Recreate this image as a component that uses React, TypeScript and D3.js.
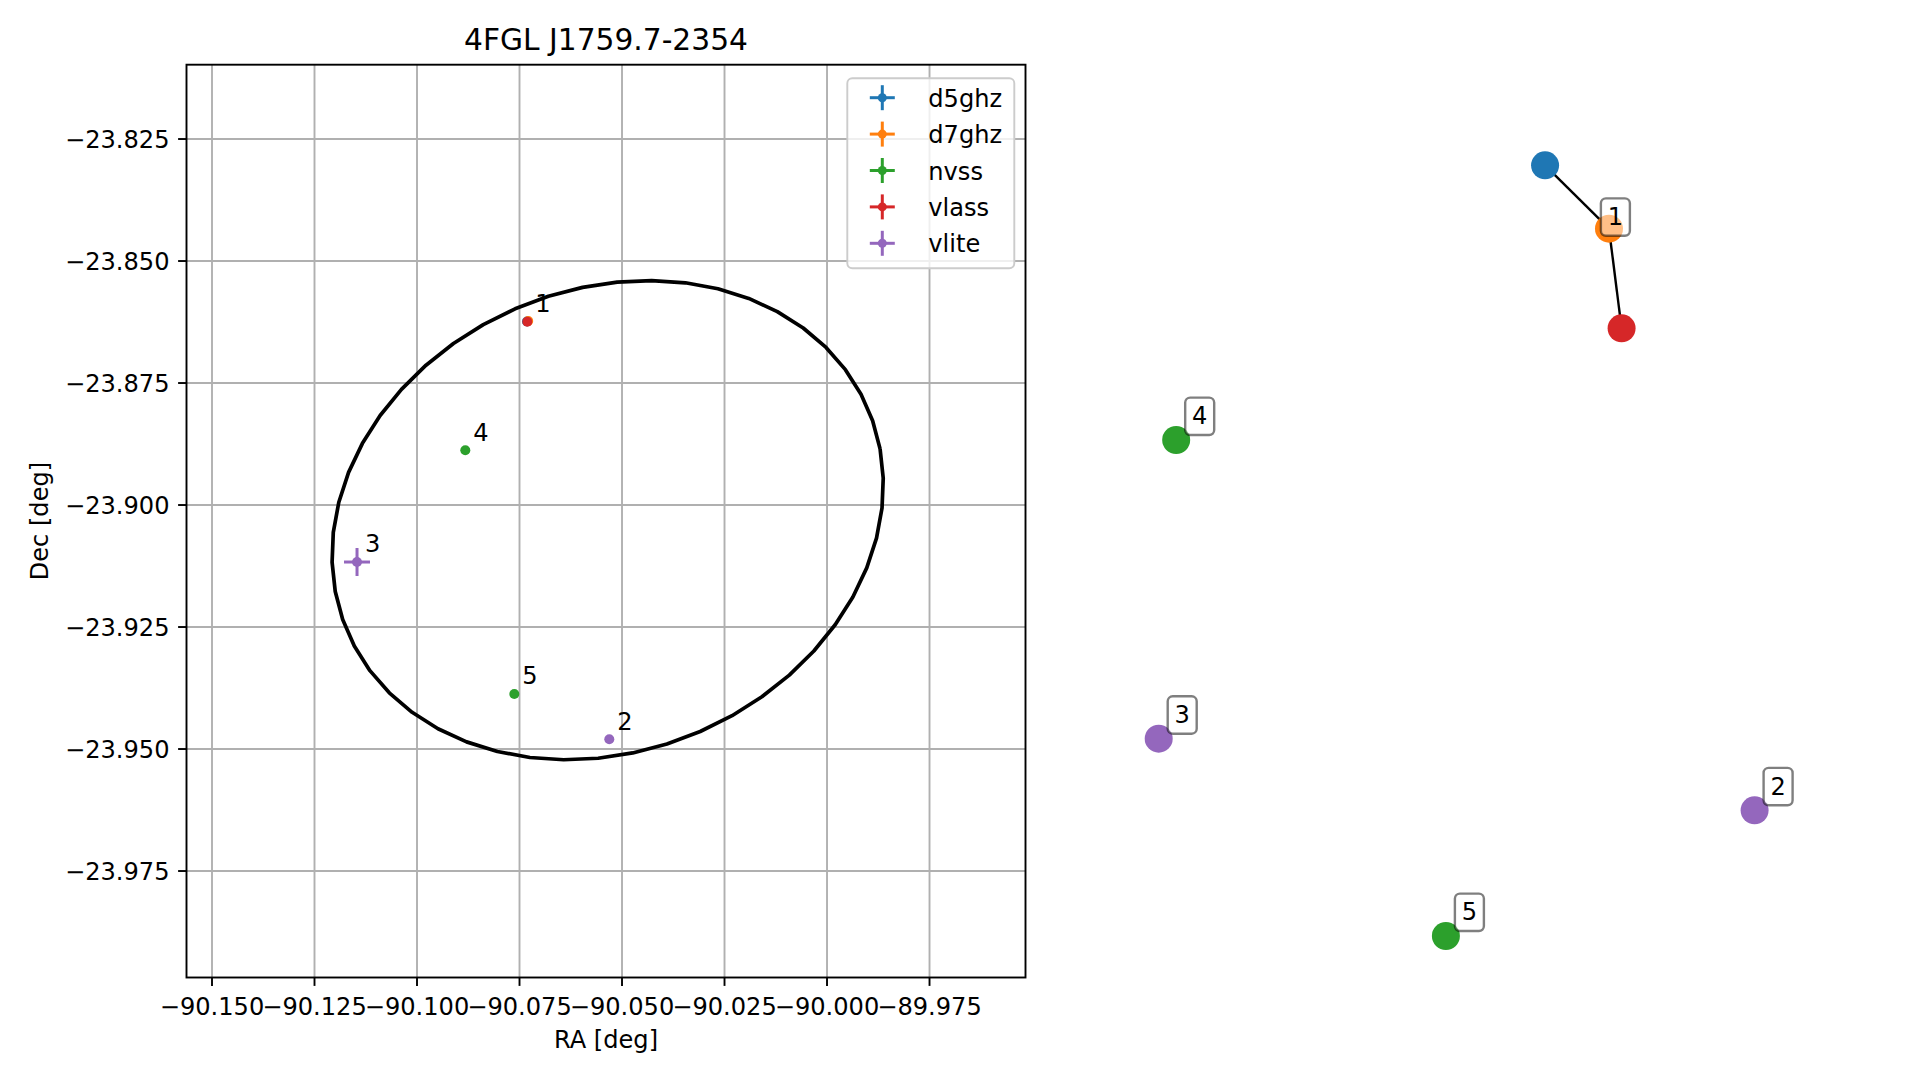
import React from "react";
import * as d3 from "d3";

// ---------- data ----------
const TITLE = "4FGL J1759.7-2354";
const SURVEYS = ["d5ghz", "d7ghz", "nvss", "vlass", "vlite"];
const SURVEY_COLORS = ["#1f77b4", "#ff7f0e", "#2ca02c", "#d62728", "#9467bd"];

// radio sources (left panel)
const SRC_SURVEY = ["d5ghz", "d7ghz", "vlass", "vlite", "vlite", "nvss", "nvss"];
const SRC_GROUP = [1, 1, 1, 2, 3, 4, 5];
const SRC_RA = [-90.07318, -90.07288, -90.0731, -90.0531, -90.11463, -90.08822, -90.07627];
const SRC_DEC = [-23.8624, -23.86228, -23.86244, -23.94801, -23.91168, -23.88879, -23.93873];
const SRC_RA_ERR = [0.0002, 0.0002, 0.0002, 0.0004, 0.00317, 0.0004, 0.0004];
const SRC_DEC_ERR = [0.0002, 0.0002, 0.0002, 0.0004, 0.00287, 0.0004, 0.0004];

// 4FGL 95% ellipse
const ELL_CENTER_RA = -90.0535;
const ELL_CENTER_DEC = -23.9031;
const ELL_SEMI_MAJOR = 0.06803;
const ELL_SEMI_MINOR = 0.048;
const ELL_ANGLE_DEG = 12.4;
const ELL_SEGMENTS = 50;

// axes
const X_DOMAIN = [-90.15622, -89.95159];
const Y_DOMAIN = [-23.80977, -23.99682];
const X_TICKS = [-90.15, -90.125, -90.1, -90.075, -90.05, -90.025, -90.0, -89.975];
const Y_TICKS = [-23.825, -23.85, -23.875, -23.9, -23.925, -23.95, -23.975];

// cross-match graph (right panel), layout coordinates
const NODE_X = [0.2968, 0.5113, 0.5536, 1.0, -1.0, -0.9413, -0.0361];
const NODE_Y = [1.0, 0.8355, 0.577, -0.6738, -0.488, 0.2871, -1.0];
const EDGES = [
  [0, 1],
  [1, 2],
];
const GROUPS = [1, 2, 3, 4, 5];

// ---------- layout ----------
const W = 1919;
const H = 1080;
const AX = { left: 186.5, right: 1025.5, top: 64.7, bottom: 977.5 };
const FONT = "'DejaVu Sans', 'Liberation Sans', sans-serif";
const FS = 24.1;

const colorOf = (s: string) => SURVEY_COLORS[SURVEYS.indexOf(s)];
const fmt = (v: number) => d3.format(".3f")(v).replace("-", "\u2212");

export default function App() {
  const x = d3.scaleLinear().domain(X_DOMAIN).range([AX.left, AX.right]);
  const y = d3.scaleLinear().domain(Y_DOMAIN).range([AX.top, AX.bottom]);

  const gx = d3.scaleLinear().domain([-1, 1]).range([1158.7, 1754.6]);
  const gy = d3.scaleLinear().domain([-1, 1]).range([936, 165.3]);

  const th = (ELL_ANGLE_DEG * Math.PI) / 180;
  const ellPts: [number, number][] = d3.range(ELL_SEGMENTS + 1).map((i) => {
    const t = (2 * Math.PI * i) / ELL_SEGMENTS;
    const ex = ELL_SEMI_MAJOR * Math.cos(t) * Math.cos(th) - ELL_SEMI_MINOR * Math.sin(t) * Math.sin(th);
    const ey = ELL_SEMI_MAJOR * Math.cos(t) * Math.sin(th) + ELL_SEMI_MINOR * Math.sin(t) * Math.cos(th);
    return [x(ELL_CENTER_RA + ex), y(ELL_CENTER_DEC + ey)];
  });
  const line = d3.line();

  // draw order by survey
  const order = d3.range(SRC_RA.length).sort(
    (a, b) => SURVEYS.indexOf(SRC_SURVEY[a]) - SURVEYS.indexOf(SRC_SURVEY[b])
  );

  // left-panel labels: one per group
  const leftLabels = GROUPS.map((g) => {
    const idx = d3.range(SRC_RA.length).filter((i) => SRC_GROUP[i] === g);
    const pick = idx.filter((i) => SRC_SURVEY[i] === "vlass" || idx.length === 1);
    const use = pick.length ? pick : idx;
    return {
      g,
      px: x(d3.mean(use, (i) => SRC_RA[i]) as number),
      py: y(d3.mean(use, (i) => SRC_DEC[i]) as number),
    };
  });

  const rightLabels = GROUPS.map((g) => {
    const idx = d3.range(NODE_X.length).filter((i) => SRC_GROUP[i] === g);
    return {
      g,
      px: gx(d3.mean(idx, (i) => NODE_X[i]) as number),
      py: gy(d3.mean(idx, (i) => NODE_Y[i]) as number),
    };
  });

  const legendX = 847.3;
  const legendY = 78.3;
  const rowH = 36.4;

  return (
    <svg
      width={W}
      height={H}
      style={{ position: "fixed", left: 0, top: 0, background: "#fff" }}
      fontFamily={FONT}
    >
      <rect x={0} y={0} width={W} height={H} fill="#fff" />
      {/* grid */}
      <g stroke="#b0b0b0" strokeWidth={1.9}>
        {X_TICKS.map((t) => (
          <line key={"gx" + t} x1={x(t)} x2={x(t)} y1={AX.top} y2={AX.bottom} />
        ))}
        {Y_TICKS.map((t) => (
          <line key={"gy" + t} x1={AX.left} x2={AX.right} y1={y(t)} y2={y(t)} />
        ))}
      </g>

      {/* ellipse */}
      <path d={line(ellPts) as string} fill="none" stroke="#000" strokeWidth={3.7} strokeLinejoin="round" />

      {/* sources with error bars */}
      {order.map((i) => {
        const c = colorOf(SRC_SURVEY[i]);
        const cx = x(SRC_RA[i]);
        const cy = y(SRC_DEC[i]);
        return (
          <g key={"s" + i}>
            <line x1={x(SRC_RA[i] - SRC_RA_ERR[i])} x2={x(SRC_RA[i] + SRC_RA_ERR[i])} y1={cy} y2={cy} stroke={c} strokeWidth={3} />
            <line x1={cx} x2={cx} y1={y(SRC_DEC[i] - SRC_DEC_ERR[i])} y2={y(SRC_DEC[i] + SRC_DEC_ERR[i])} stroke={c} strokeWidth={3} />
            <circle cx={cx} cy={cy} r={5} fill={c} />
          </g>
        );
      })}

      {leftLabels.map((l) => (
        <text key={"ll" + l.g} x={l.px + 8} y={l.py - 9.8} fontSize={FS} fill="#000">
          {l.g}
        </text>
      ))}

      {/* spines */}
      <rect x={AX.left} y={AX.top} width={AX.right - AX.left} height={AX.bottom - AX.top} fill="none" stroke="#000" strokeWidth={1.9} />

      {/* ticks */}
      {X_TICKS.map((t) => (
        <g key={"tx" + t}>
          <line x1={x(t)} x2={x(t)} y1={AX.bottom} y2={AX.bottom + 8.4} stroke="#000" strokeWidth={1.9} />
          <text x={x(t)} y={1015} textAnchor="middle" fontSize={FS} fill="#000">
            {fmt(t)}
          </text>
        </g>
      ))}
      {Y_TICKS.map((t) => (
        <g key={"ty" + t}>
          <line x1={AX.left - 8.4} x2={AX.left} y1={y(t)} y2={y(t)} stroke="#000" strokeWidth={1.9} />
          <text x={169.5} y={y(t) + 8.6} textAnchor="end" fontSize={FS} fill="#000">
            {fmt(t)}
          </text>
        </g>
      ))}

      <text x={(AX.left + AX.right) / 2} y={1048} textAnchor="middle" fontSize={FS}>
        RA [deg]
      </text>
      <text transform={`translate(47.5,${(AX.top + AX.bottom) / 2}) rotate(-90)`} textAnchor="middle" fontSize={FS}>
        Dec [deg]
      </text>
      <text x={(AX.left + AX.right) / 2} y={49.5} textAnchor="middle" fontSize={29.7}>
        {TITLE}
      </text>

      {/* legend */}
      <rect x={legendX} y={legendY} width={167} height={190} rx={5} fill="#fff" fillOpacity={0.8} stroke="#cccccc" strokeWidth={1.9} />
      {SURVEYS.map((s, k) => {
        const cy = legendY + 19.4 + k * rowH;
        const cx = 882.3;
        const c = SURVEY_COLORS[k];
        return (
          <g key={"lg" + s}>
            <line x1={cx - 12.5} x2={cx + 12.5} y1={cy} y2={cy} stroke={c} strokeWidth={3} />
            <line x1={cx} x2={cx} y1={cy - 12.5} y2={cy + 12.5} stroke={c} strokeWidth={3} />
            <circle cx={cx} cy={cy} r={4.5} fill={c} />
            <text x={928.3} y={cy + 9} fontSize={FS} fill="#000">
              {s}
            </text>
          </g>
        );
      })}

      {/* right panel: graph */}
      {EDGES.map(([a, b], k) => (
        <line key={"e" + k} x1={gx(NODE_X[a])} y1={gy(NODE_Y[a])} x2={gx(NODE_X[b])} y2={gy(NODE_Y[b])} stroke="#000" strokeWidth={2.4} />
      ))}
      {NODE_X.map((nx, i) => (
        <circle key={"n" + i} cx={gx(nx)} cy={gy(NODE_Y[i])} r={14} fill={colorOf(SRC_SURVEY[i])} />
      ))}
      {rightLabels.map((l) => {
        const bx = l.px + 23.5;
        const by = l.py - 23.7;
        return (
          <g key={"rl" + l.g}>
            <rect x={bx - 14.5} y={by - 18.7} width={29} height={37.4} rx={5} fill="#fff" fillOpacity={0.5} stroke="#000" strokeOpacity={0.5} strokeWidth={2.4} />
            <text x={bx} y={by + 8} textAnchor="middle" fontSize={FS} fill="#000">
              {l.g}
            </text>
          </g>
        );
      })}
    </svg>
  );
}
